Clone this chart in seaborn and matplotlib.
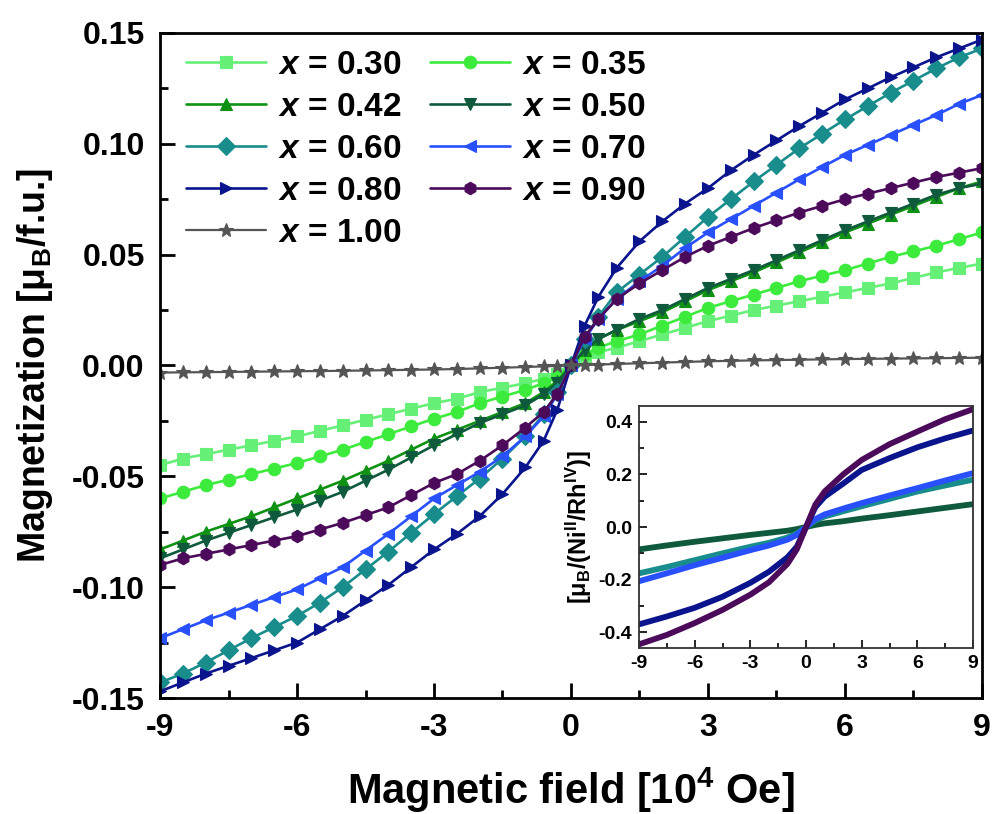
import numpy as np
import pandas as pd
import matplotlib
matplotlib.use("Agg")
import matplotlib.pyplot as plt
import seaborn as sns
from matplotlib.ticker import MultipleLocator, FixedLocator

# ---------------- data ----------------
field = [-9, -8.5, -8, -7.5, -7, -6.5, -6, -5.5, -5, -4.5, -4, -3.5, -3, -2.5, -2, -1.5,
         -1, -0.6, -0.3, 0, 0.3, 0.6, 1, 1.5, 2, 2.5, 3, 3.5, 4, 4.5, 5, 5.5, 6, 6.5,
         7, 7.5, 8, 8.5, 9]

m_030 = [-0.045, -0.042, -0.040, -0.038, -0.036, -0.034, -0.032, -0.0295, -0.027, -0.0245,
         -0.022, -0.0195, -0.017, -0.015, -0.012, -0.010, -0.008, -0.006, -0.004, 0.0,
         0.004, 0.006, 0.008, 0.011, 0.014, 0.017, 0.020, 0.0225, 0.025, 0.027, 0.029,
         0.031, 0.033, 0.035, 0.037, 0.0395, 0.042, 0.044, 0.046]
m_035 = [-0.060, -0.057, -0.054, -0.0515, -0.049, -0.0465, -0.044, -0.041, -0.038, -0.0345,
         -0.031, -0.0275, -0.024, -0.021, -0.017, -0.014, -0.011, -0.008, -0.005, 0.0,
         0.005, 0.008, 0.011, 0.014, 0.018, 0.022, 0.026, 0.029, 0.032, 0.035, 0.038,
         0.0405, 0.043, 0.046, 0.049, 0.0515, 0.054, 0.057, 0.060]
m_042 = [-0.083, -0.079, -0.075, -0.0715, -0.068, -0.064, -0.060, -0.056, -0.052, -0.0475,
         -0.043, -0.038, -0.033, -0.029, -0.025, -0.021, -0.017, -0.012, -0.007, 0.0,
         0.007, 0.012, 0.016, 0.020, 0.024, 0.029, 0.034, 0.038, 0.042, 0.0465, 0.051,
         0.0555, 0.060, 0.064, 0.068, 0.072, 0.076, 0.080, 0.083]
m_050 = [-0.087, -0.083, -0.079, -0.0755, -0.072, -0.0685, -0.065, -0.061, -0.057, -0.052,
         -0.047, -0.0415, -0.036, -0.031, -0.026, -0.022, -0.018, -0.013, -0.008, 0.0,
         0.007, 0.012, 0.016, 0.021, 0.025, 0.030, 0.035, 0.039, 0.043, 0.0475, 0.052,
         0.0565, 0.061, 0.065, 0.069, 0.073, 0.077, 0.080, 0.082]
m_060 = [-0.143, -0.139, -0.134, -0.1285, -0.123, -0.118, -0.113, -0.107, -0.100, -0.092,
         -0.084, -0.0755, -0.067, -0.059, -0.051, -0.042, -0.032, -0.022, -0.012, 0.0,
         0.012, 0.022, 0.033, 0.041, 0.049, 0.058, 0.067, 0.075, 0.083, 0.0905, 0.098,
         0.1045, 0.111, 0.117, 0.123, 0.1285, 0.134, 0.139, 0.143]
m_070 = [-0.123, -0.119, -0.115, -0.1115, -0.108, -0.1045, -0.101, -0.096, -0.091, -0.0835,
         -0.076, -0.068, -0.060, -0.054, -0.048, -0.041, -0.032, -0.023, -0.013, 0.0,
         0.012, 0.021, 0.030, 0.038, 0.045, 0.053, 0.060, 0.066, 0.072, 0.078, 0.084,
         0.0895, 0.095, 0.0995, 0.104, 0.1085, 0.113, 0.118, 0.122]
m_080 = [-0.147, -0.143, -0.139, -0.1355, -0.132, -0.1285, -0.125, -0.119, -0.113, -0.106,
         -0.099, -0.091, -0.083, -0.076, -0.068, -0.058, -0.046, -0.034, -0.020, 0.0,
         0.018, 0.031, 0.044, 0.056, 0.065, 0.073, 0.080, 0.088, 0.095, 0.1015, 0.108,
         0.114, 0.120, 0.125, 0.130, 0.1345, 0.139, 0.143, 0.147]
m_090 = [-0.090, -0.087, -0.085, -0.083, -0.081, -0.079, -0.077, -0.074, -0.071, -0.0675,
         -0.064, -0.0585, -0.053, -0.049, -0.043, -0.036, -0.028, -0.021, -0.013, 0.0,
         0.013, 0.021, 0.030, 0.037, 0.043, 0.049, 0.054, 0.058, 0.062, 0.0655, 0.069,
         0.072, 0.075, 0.0775, 0.080, 0.0825, 0.085, 0.087, 0.089]
m_100 = [-0.0032, -0.0031, -0.0030, -0.0029, -0.0028, -0.0027, -0.0026, -0.0025, -0.0024,
         -0.00225, -0.0021, -0.00195, -0.0018, -0.0016, -0.0013, -0.0010, -0.0007, -0.0004,
         -0.0002, 0.0, 0.0002, 0.0004, 0.0007, 0.0010, 0.0013, 0.0016, 0.0019, 0.0021,
         0.0023, 0.00245, 0.0026, 0.00275, 0.0029, 0.0030, 0.0031, 0.0032, 0.0033, 0.0034,
         0.0035]

labels = ["0.30", "0.35", "0.42", "0.50", "0.60", "0.70", "0.80", "0.90", "1.00"]
series = [m_030, m_035, m_042, m_050, m_060, m_070, m_080, m_090, m_100]
colors = ["#66F078", "#3CEB3C", "#0F9114", "#0F5A3C", "#198C8C", "#2850FF",
          "#0A148C", "#4B0A5A", "#555555"]
markers = ["s", "o", "^", "v", "D", "<", ">", "h", "*"]

# inset data: moment per Ni(II)/Rh(IV)
field_in = [-9, -7.5, -6, -4.5, -3, -2, -1, -0.5, 0, 0.5, 1, 2, 3, 4.5, 6, 7.5, 9]
in_050 = [-0.085, -0.070, -0.056, -0.043, -0.030, -0.022, -0.014, -0.008, 0.0,
          0.008, 0.014, 0.022, 0.032, 0.045, 0.059, 0.073, 0.087]
in_060 = [-0.176, -0.152, -0.126, -0.100, -0.075, -0.060, -0.040, -0.025, 0.0,
          0.025, 0.040, 0.060, 0.079, 0.107, 0.135, 0.158, 0.180]
in_070 = [-0.206, -0.176, -0.145, -0.117, -0.088, -0.070, -0.048, -0.030, 0.0,
          0.030, 0.048, 0.070, 0.091, 0.120, 0.148, 0.177, 0.205]
in_080 = [-0.370, -0.340, -0.307, -0.265, -0.212, -0.170, -0.115, -0.075, 0.0,
          0.075, 0.115, 0.165, 0.217, 0.262, 0.303, 0.337, 0.367]
in_090 = [-0.446, -0.410, -0.365, -0.315, -0.257, -0.210, -0.140, -0.085, 0.0,
          0.085, 0.135, 0.200, 0.255, 0.315, 0.363, 0.410, 0.448]
inset_series = [in_050, in_060, in_070, in_080, in_090]
inset_colors = ["#0F5A3C", "#198C8C", "#2850FF", "#0A148C", "#4B0A5A"]

# ---------------- style ----------------
sns.set_style("ticks")
plt.rcParams["font.family"] = ["Liberation Sans", "DejaVu Sans"]
plt.rcParams["font.weight"] = "bold"
plt.rcParams["text.color"] = "black"
plt.rcParams["axes.labelcolor"] = "black"
plt.rcParams["xtick.color"] = "black"
plt.rcParams["ytick.color"] = "black"
plt.rcParams["mathtext.fontset"] = "custom"
plt.rcParams["mathtext.rm"] = "Liberation Sans:bold"
plt.rcParams["mathtext.bf"] = "Liberation Sans:bold"
plt.rcParams["mathtext.it"] = "Liberation Sans:bold:italic"

fig = plt.figure(figsize=(9.92, 8.14), dpi=100)
ax = fig.add_axes([0.1613, 0.1425, 0.8286, 0.8170])

handles = []
for lab, vals, c, mk in zip(labels, series, colors, markers):
    df = pd.DataFrame({"H": field, "M": vals})
    is_star = mk == "*"
    sns.lineplot(data=df, x="H", y="M", ax=ax, sort=False, estimator=None,
                 color=c, marker=mk, markersize=10 if is_star else 9,
                 markeredgecolor=c, markeredgewidth=0.8,
                 linewidth=1.6 if is_star else 1.9, label=f"$x$ = {lab}")
    handles.append(ax.get_lines()[-1])

ax.set_xlim(-9, 9)
ax.set_ylim(-0.15, 0.15)
ax.xaxis.set_major_locator(FixedLocator([-9, -6, -3, 0, 3, 6, 9]))
ax.xaxis.set_minor_locator(MultipleLocator(1.5))
ax.yaxis.set_minor_locator(MultipleLocator(0.025))
ax.set_xticklabels(["-9", "-6", "-3", "0", "3", "6", "9"])
ax.set_yticks([-0.15, -0.10, -0.05, 0.0, 0.05, 0.10, 0.15])
ax.set_yticklabels(["-0.15", "-0.10", "-0.05", "0.00", "0.05", "0.10", "0.15"])
ax.tick_params(axis="both", which="major", direction="in", length=11, width=2,
               labelsize=23, pad=11, top=False, right=False, colors="black")
ax.tick_params(axis="both", which="minor", direction="in", length=6, width=2,
               top=False, right=False, colors="black")
for lbl in ax.get_xticklabels() + ax.get_yticklabels():
    lbl.set_fontweight("bold")
for sp in ax.spines.values():
    sp.set_linewidth(2)
    sp.set_color("black")

ax.set_xlabel("Magnetic field [10$^{4}$ Oe]", fontsize=30, fontweight="bold",
              labelpad=16, color="black")
ax.set_ylabel("Magnetization [μ$_\\mathrm{B}$/f.u.]", fontsize=27,
              fontweight="bold", labelpad=12, color="black")

# row-major legend order (2 columns)
order = [0, 2, 4, 6, 8, 1, 3, 5, 7]
leg = ax.legend([handles[i] for i in order], [f"$x$ = {labels[i]}" for i in order],
                loc="upper left", bbox_to_anchor=(0.032, 0.975), ncol=2, frameon=False,
                fontsize=24, handlelength=2.4, handletextpad=0.35, columnspacing=0.85,
                labelspacing=0.33, borderaxespad=0.0, borderpad=0.0, numpoints=1)
for t in leg.get_texts():
    t.set_fontweight("bold")
    t.set_color("black")

# ---------------- inset ----------------
axi = fig.add_axes([0.6442, 0.2039, 0.3367, 0.2973])
for vals, c in zip(inset_series, inset_colors):
    dfi = pd.DataFrame({"H": field_in, "M": vals})
    sns.lineplot(data=dfi, x="H", y="M", ax=axi, sort=False, estimator=None,
                 color=c, linewidth=4.2)
axi.set_xlim(-9, 9)
axi.set_ylim(-0.46, 0.46)
axi.xaxis.set_major_locator(FixedLocator([-9, -6, -3, 0, 3, 6, 9]))
axi.xaxis.set_minor_locator(MultipleLocator(1.5))
axi.set_xticklabels(["-9", "-6", "-3", "0", "3", "6", "9"])
axi.yaxis.set_major_locator(FixedLocator([-0.4, -0.2, 0.0, 0.2, 0.4]))
axi.yaxis.set_minor_locator(MultipleLocator(0.1))
axi.set_yticklabels(["-0.4", "-0.2", "0.0", "0.2", "0.4"])
axi.tick_params(axis="both", which="major", direction="in", length=6, width=1.2,
                labelsize=14, pad=5, top=False, right=False, colors="black")
axi.tick_params(axis="both", which="minor", direction="in", length=3.5, width=1.2,
                top=False, right=False, colors="black")
for lbl in axi.get_xticklabels() + axi.get_yticklabels():
    lbl.set_fontweight("bold")
for sp in axi.spines.values():
    sp.set_linewidth(1.3)
    sp.set_color("#333333")
axi.set_xlabel("")
axi.set_ylabel("[μ$_\\mathrm{B}$/(Ni$^\\mathrm{II}$/Rh$^\\mathrm{IV}$)]", fontsize=17,
               fontweight="bold", labelpad=3, color="black")

fig.savefig("out.png", dpi=100, facecolor="white")
